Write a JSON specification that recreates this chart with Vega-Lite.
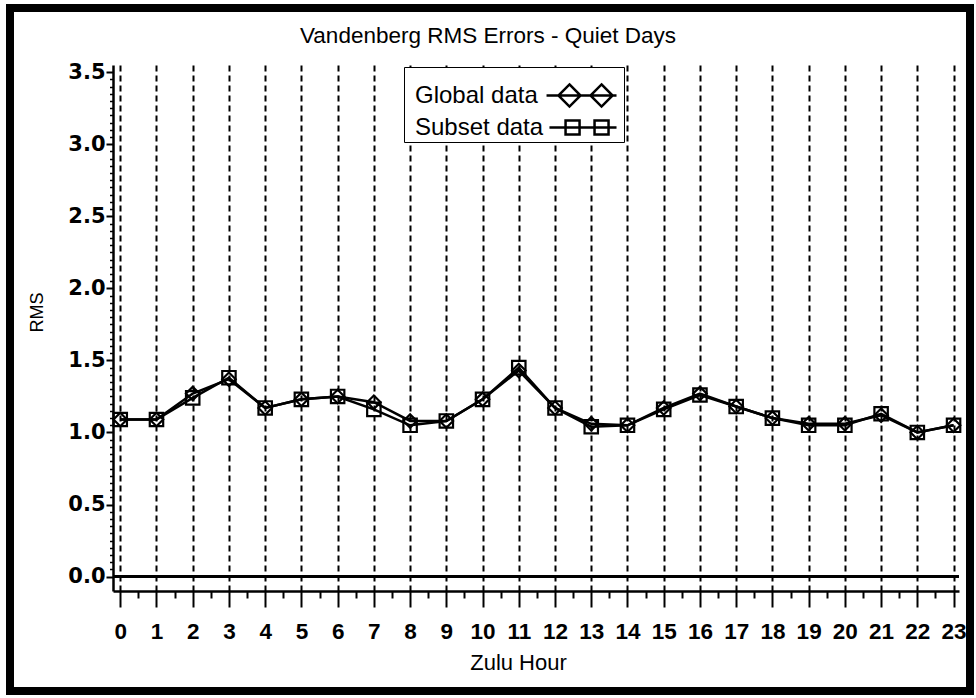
{
  "$schema": "https://vega.github.io/schema/vega-lite/v6.json",
  "width": 846,
  "height": 526,
  "autosize": "none",
  "padding": {"left": 113, "top": 65, "right": 17, "bottom": 107},
  "background": "white",
  "title": {"text": "Vandenberg RMS Errors - Quiet Days", "font": "Liberation Sans", "fontSize": 22.5, "fontWeight": "normal", "color": "black", "anchor": "middle", "offset": -43, "dx": -48},
  "config": {"view": {"stroke": null}, "axis": {"labelOverlap": false}},
  "resolve": {"axis": {"x": "independent", "y": "independent"}, "scale": {"shape": "independent"}},
  "data": {"values": [
    {"hour": 0, "series": "Global data", "rms": 1.09}, {"hour": 0, "series": "Subset data", "rms": 1.09},
    {"hour": 1, "series": "Global data", "rms": 1.09}, {"hour": 1, "series": "Subset data", "rms": 1.09},
    {"hour": 2, "series": "Global data", "rms": 1.27}, {"hour": 2, "series": "Subset data", "rms": 1.24},
    {"hour": 3, "series": "Global data", "rms": 1.37}, {"hour": 3, "series": "Subset data", "rms": 1.38},
    {"hour": 4, "series": "Global data", "rms": 1.17}, {"hour": 4, "series": "Subset data", "rms": 1.17},
    {"hour": 5, "series": "Global data", "rms": 1.23}, {"hour": 5, "series": "Subset data", "rms": 1.23},
    {"hour": 6, "series": "Global data", "rms": 1.25}, {"hour": 6, "series": "Subset data", "rms": 1.25},
    {"hour": 7, "series": "Global data", "rms": 1.21}, {"hour": 7, "series": "Subset data", "rms": 1.16},
    {"hour": 8, "series": "Global data", "rms": 1.08}, {"hour": 8, "series": "Subset data", "rms": 1.05},
    {"hour": 9, "series": "Global data", "rms": 1.08}, {"hour": 9, "series": "Subset data", "rms": 1.08},
    {"hour": 10, "series": "Global data", "rms": 1.23}, {"hour": 10, "series": "Subset data", "rms": 1.23},
    {"hour": 11, "series": "Global data", "rms": 1.43}, {"hour": 11, "series": "Subset data", "rms": 1.45},
    {"hour": 12, "series": "Global data", "rms": 1.17}, {"hour": 12, "series": "Subset data", "rms": 1.17},
    {"hour": 13, "series": "Global data", "rms": 1.06}, {"hour": 13, "series": "Subset data", "rms": 1.04},
    {"hour": 14, "series": "Global data", "rms": 1.05}, {"hour": 14, "series": "Subset data", "rms": 1.05},
    {"hour": 15, "series": "Global data", "rms": 1.17}, {"hour": 15, "series": "Subset data", "rms": 1.16},
    {"hour": 16, "series": "Global data", "rms": 1.27}, {"hour": 16, "series": "Subset data", "rms": 1.26},
    {"hour": 17, "series": "Global data", "rms": 1.18}, {"hour": 17, "series": "Subset data", "rms": 1.18},
    {"hour": 18, "series": "Global data", "rms": 1.10}, {"hour": 18, "series": "Subset data", "rms": 1.10},
    {"hour": 19, "series": "Global data", "rms": 1.06}, {"hour": 19, "series": "Subset data", "rms": 1.05},
    {"hour": 20, "series": "Global data", "rms": 1.06}, {"hour": 20, "series": "Subset data", "rms": 1.05},
    {"hour": 21, "series": "Global data", "rms": 1.12}, {"hour": 21, "series": "Subset data", "rms": 1.13},
    {"hour": 22, "series": "Global data", "rms": 1.00}, {"hour": 22, "series": "Subset data", "rms": 1.00},
    {"hour": 23, "series": "Global data", "rms": 1.05}, {"hour": 23, "series": "Subset data", "rms": 1.05}
  ]},
  "layer": [
    {
      "mark": {"type": "rule", "color": "black", "strokeWidth": 2},
      "encoding": {"y": {"datum": 0, "axis": null}}
    },
    {
      "mark": {"type": "line", "color": "black", "strokeWidth": 2.5},
      "encoding": {
        "x": {
          "field": "hour", "type": "quantitative",
          "scale": {"domain": [-0.2, 23.15], "nice": false, "zero": false},
          "axis": {
            "orient": "bottom",
            "title": "Zulu Hour",
            "values": [0, 1, 2, 3, 4, 5, 6, 7, 8, 9, 10, 11, 12, 13, 14, 15, 16, 17, 18, 19, 20, 21, 22, 23],
            "format": "d",
            "grid": true, "gridColor": "black", "gridDash": [6, 4], "gridWidth": 2, "gridOpacity": 1,
            "tickSize": 16, "tickColor": "black", "tickWidth": 2,
            "domainColor": "black", "domainWidth": 2.5,
            "labelFont": "Liberation Sans", "labelFontWeight": "bold", "labelFontSize": 22.5, "labelColor": "black",
            "labelPadding": 13, "labelFlush": false, "labelOverlap": false,
            "titleFont": "Liberation Sans", "titleFontSize": 22, "titleFontWeight": "normal", "titleColor": "black",
            "titleX": 405, "titleY": 78, "titleBaseline": "alphabetic", "titleAlign": "center"
          }
        },
        "y": {
          "field": "rms", "type": "quantitative",
          "scale": {"domain": [-0.1, 3.55], "nice": false, "zero": false},
          "axis": {
            "orient": "left",
            "title": "RMS",
            "values": [0, 0.5, 1, 1.5, 2, 2.5, 3, 3.5],
            "format": ".1f",
            "grid": false,
            "tickSize": 7, "tickColor": "black", "tickWidth": 2,
            "domainColor": "black", "domainWidth": 2.5,
            "labelFont": "DejaVu Sans", "labelFontWeight": "bold", "labelFontSize": 21, "labelColor": "black",
            "labelPadding": 1, "labelFlush": false, "labelOverlap": false,
            "titleFont": "Liberation Sans", "titleFontSize": 18, "titleFontWeight": "normal", "titleColor": "black",
            "titleX": -71, "titleY": 247, "titleBaseline": "alphabetic", "titleAlign": "center", "titleAngle": 270
          }
        },
        "detail": {"field": "series"}
      }
    },
    {
      "mark": {"type": "point", "filled": false, "color": "black", "strokeWidth": 2.2, "size": 180, "opacity": 1},
      "encoding": {
        "x": {
          "field": "hour", "type": "quantitative",
          "axis": {
            "orient": "bottom", "title": null, "labels": false, "grid": false, "domain": false,
            "values": [0.5, 1.5, 2.5, 3.5, 4.5, 5.5, 6.5, 7.5, 8.5, 9.5, 10.5, 11.5, 12.5, 13.5, 14.5, 15.5, 16.5, 17.5, 18.5, 19.5, 20.5, 21.5, 22.5],
            "tickSize": 7, "tickColor": "black", "tickWidth": 2
          }
        },
        "y": {
          "field": "rms", "type": "quantitative",
          "axis": {
            "orient": "left", "title": null, "labels": false, "grid": false, "domain": false,
            "values": [0.05, 0.1, 0.15, 0.2, 0.25, 0.3, 0.35, 0.4, 0.45, 0.55, 0.6, 0.65, 0.7, 0.75, 0.8, 0.85, 0.9, 0.95, 1.05, 1.1, 1.15, 1.2, 1.25, 1.3, 1.35, 1.4, 1.45, 1.55, 1.6, 1.65, 1.7, 1.75, 1.8, 1.85, 1.9, 1.95, 2.05, 2.1, 2.15, 2.2, 2.25, 2.3, 2.35, 2.4, 2.45, 2.55, 2.6, 2.65, 2.7, 2.75, 2.8, 2.85, 2.9, 2.95, 3.05, 3.1, 3.15, 3.2, 3.25, 3.3, 3.35, 3.4, 3.45],
            "tickSize": 3.5, "tickColor": "black", "tickWidth": 1.5
          }
        },
        "shape": {
          "field": "series", "type": "nominal",
          "scale": {"domain": ["Global data", "Subset data"], "range": ["diamond", "square"]},
          "legend": null
        }
      }
    },
    {
      "transform": [{"filter": "false"}],
      "mark": {"type": "point", "filled": false, "color": "black", "strokeWidth": 2.5, "size": 784, "opacity": 1},
      "encoding": {
        "shape": {
          "field": "series", "type": "nominal",
          "scale": {
            "domain": ["Global data", "Subset data"],
            "range": [
              "M8.93,0L13.93,0M10.57,-0.79L11.36,0L10.57,0.79L9.78,0ZM12.86,-0.79L13.65,0L12.86,0.79L12.07,0Z",
              "M9.14,0L13.93,0M10.29,-0.5L11.29,-0.5L11.29,0.5L10.29,0.5ZM12.36,-0.5L13.36,-0.5L13.36,0.5L12.36,0.5Z"
            ]
          },
          "legend": {
            "orient": "none", "legendX": 291, "legendY": 2,
            "title": " ", "titleFontSize": 8, "titlePadding": 3,
            "padding": 2, "strokeColor": "black", "fillColor": "white",
            "labelFont": "Liberation Sans", "labelFontSize": 24, "labelColor": "black", "labelLimit": 300,
            "labelOffset": -22,
            "symbolSize": 784, "symbolStrokeWidth": 2.5, "symbolStrokeColor": "black", "symbolFillColor": "transparent",
            "rowPadding": -3
          }
        }
      }
    },
    {
      "mark": {"type": "rect", "fill": "transparent", "stroke": "black", "strokeWidth": 7},
      "encoding": {
        "x": {"datum": -3.043, "axis": null}, "x2": {"datum": 23.453},
        "y": {"datum": 3.9455, "axis": null}, "y2": {"datum": -0.7939}
      }
    }
  ]
}
